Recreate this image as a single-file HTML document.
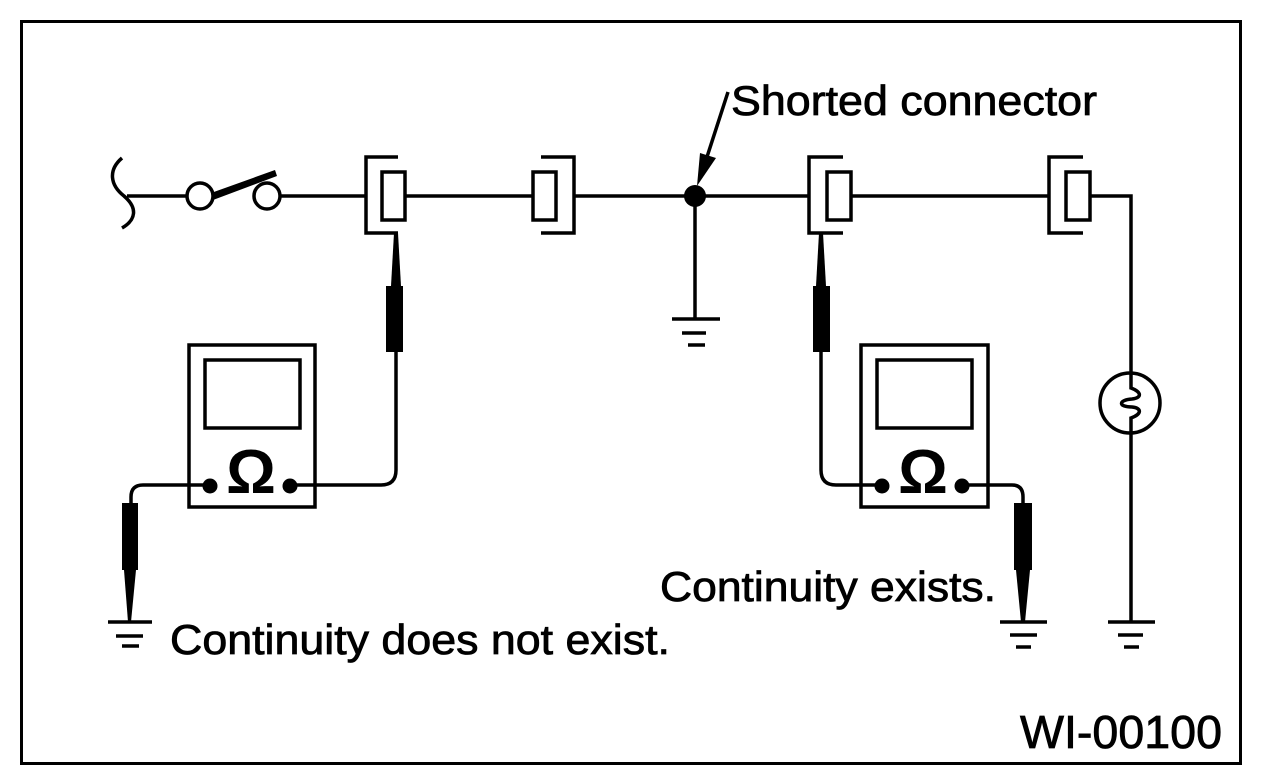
<!DOCTYPE html>
<html><head><meta charset="utf-8"><style>
html,body{margin:0;padding:0;background:#fff;}
svg{display:block;}
text{font-family:"Liberation Sans",Arial,sans-serif;fill:#000;}
</style></head><body>
<svg width="1264" height="784" viewBox="0 0 1264 784" xmlns="http://www.w3.org/2000/svg">
<rect x="21.5" y="21.5" width="1219" height="742" fill="none" stroke="#000" stroke-width="3"/>
<g fill="none" stroke="#000" stroke-width="3.5">
  <path d="M122 158 C108 170,110 185,124 196 C138 208,136 220,122 228"/>
  <line x1="127" y1="196" x2="187" y2="196"/>
  <circle cx="200" cy="196" r="13"/>
  <circle cx="267" cy="196" r="13"/>
  <line x1="280" y1="196" x2="365" y2="196"/>
  <path d="M398 157 H366 V233 H398"/>
  <rect x="382" y="172" width="23" height="48"/>
  <line x1="405" y1="196" x2="533" y2="196"/>
  <rect x="533" y="172" width="23" height="48"/>
  <path d="M541 157 H574 V233 H541"/>
  <line x1="574" y1="196" x2="809" y2="196"/>
  <line x1="695" y1="196" x2="695" y2="319"/>
  <line x1="672" y1="319" x2="720" y2="319"/>
  <line x1="682" y1="333" x2="706" y2="333"/>
  <line x1="688" y1="345" x2="705" y2="345"/>
  <path d="M843 157 H809 V233 H843"/>
  <rect x="827" y="172" width="24" height="48"/>
  <line x1="851" y1="196" x2="1049" y2="196"/>
  <path d="M1083 157 H1049 V233 H1083"/>
  <rect x="1066" y="172" width="24" height="48"/>
  <path d="M1090 196 H1131 V373"/>
  <circle cx="1130" cy="403" r="30"/>
  <path d="M1131 373 V388 C1142 392,1142 398,1132 399 C1118 400,1118 407,1132 407 C1142 408,1142 414,1131 418 V433"/>
  <line x1="1131" y1="433" x2="1131" y2="622"/>
  <line x1="1108" y1="622" x2="1155" y2="622"/>
  <line x1="1118" y1="635" x2="1143" y2="635"/>
  <line x1="1124" y1="647" x2="1139" y2="647"/>
  <rect x="189" y="345" width="126" height="162"/>
  <rect x="205" y="360" width="95" height="68"/>
  <path d="M396 352 V470 Q396 485 381 485 H290"/>
  <path d="M210 485 H143 Q131 485 131 497 V505"/>
  <line x1="108" y1="622" x2="152" y2="622"/>
  <line x1="116" y1="636" x2="143" y2="636"/>
  <line x1="122" y1="646" x2="139" y2="646"/>
  <rect x="861" y="345" width="127" height="162"/>
  <rect x="877" y="360" width="95" height="68"/>
  <path d="M821 352 V470 Q821 485 836 485 H882"/>
  <path d="M962 485 H1012 Q1023 485 1023 497 V505"/>
  <line x1="1000" y1="622" x2="1047" y2="622"/>
  <line x1="1010" y1="635" x2="1037" y2="635"/>
  <line x1="1016" y1="647" x2="1031" y2="647"/>
  <line x1="728" y1="92" x2="706" y2="160"/>
</g>
<g fill="#000" stroke="none">
  <polygon points="211,193 275,170 277,176 213,200"/>
  <circle cx="695" cy="196" r="11"/>
  <polygon points="697,186 700,153 716,158"/>
  <polygon points="394,233 398,233 401,286 391,286"/>
  <rect x="386" y="286" width="17" height="66"/>
  <rect x="122" y="503" width="16" height="67"/>
  <polygon points="124,570 136,570 131,622 128,622"/>
  <circle cx="210" cy="486" r="7.5"/>
  <circle cx="290" cy="486" r="7.5"/>
  <polygon points="819,233 823,233 826,286 816,286"/>
  <rect x="813" y="286" width="17" height="66"/>
  <rect x="1014" y="503" width="18" height="67"/>
  <polygon points="1016,570 1030,570 1025,622 1021,622"/>
  <circle cx="882" cy="486" r="7.5"/>
  <circle cx="962" cy="486" r="7.5"/>
</g>
<text x="251" y="493" font-size="62" font-weight="bold" text-anchor="middle">Ω</text>
<text x="923" y="493" font-size="62" font-weight="bold" text-anchor="middle">Ω</text>
<g stroke="#000" stroke-width="0.8">
<text x="731" y="115" font-size="42" textLength="366" lengthAdjust="spacingAndGlyphs">Shorted connector</text>
<text x="170" y="654" font-size="42" textLength="500" lengthAdjust="spacingAndGlyphs">Continuity does not exist.</text>
<text x="660" y="601" font-size="42" textLength="336" lengthAdjust="spacingAndGlyphs">Continuity exists.</text>
<text x="1020" y="748" font-size="46" textLength="202" lengthAdjust="spacingAndGlyphs">WI-00100</text>
</g>
</svg>
</body></html>
